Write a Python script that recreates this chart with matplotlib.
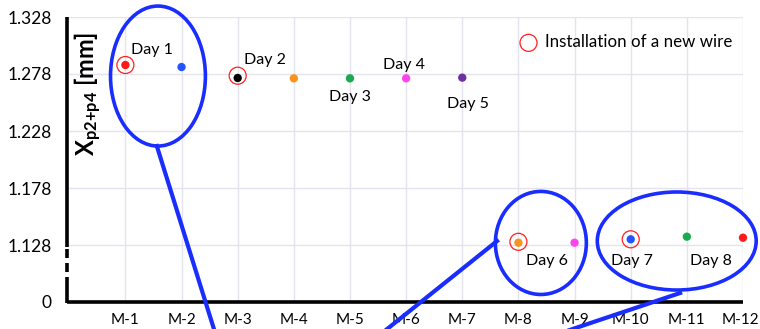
import matplotlib
matplotlib.use("Agg")
import matplotlib.pyplot as plt
from matplotlib.patches import Ellipse
from matplotlib.lines import Line2D
from matplotlib.transforms import ScaledTranslation

plt.rcParams['font.family'] = ['Lato', 'DejaVu Sans']
plt.rcParams['mathtext.fontset'] = 'custom'
plt.rcParams['mathtext.rm'] = 'Lato'
plt.rcParams['mathtext.bf'] = 'Lato:bold'

# Measurement data
months = ["M-1", "M-2", "M-3", "M-4", "M-5", "M-6",
          "M-7", "M-8", "M-9", "M-10", "M-11", "M-12"]
values = [1.2859, 1.2841, 1.2745, 1.2742, 1.2742, 1.2742,
          1.2748, 1.1300, 1.1300, 1.1330, 1.1353, 1.1344]
point_colors = ["#ff1a1a", "#2255ff", "#000000", "#f7941d", "#1aab50", "#ff44ee",
                "#7030a0", "#f7941d", "#ff44ee", "#2255ff", "#1aab50", "#ff1a1a"]

# Months where a new wire was installed
install_months = ["M-1", "M-3", "M-8", "M-10"]
install_values = [1.2859, 1.2765, 1.1308, 1.1330]

day_labels = ["Day 1", "Day 2", "Day 3", "Day 4", "Day 5", "Day 6", "Day 7", "Day 8"]
day_label_pos = [(1.47, 1.2991), (3.49, 1.2903), (5.00, 1.2578), (5.96, 1.2859),
                 (7.10, 1.2517), (8.51, 1.1140), (10.02, 1.1140), (11.43, 1.1140)]

y_ticks = [1.078, 1.128, 1.178, 1.228, 1.278, 1.328]
y_tick_labels = ["0", "1.128", "1.178", "1.228", "1.278", "1.328"]

fig = plt.figure(figsize=(7.6, 3.29), dpi=100)
ax = fig.add_axes([67 / 760, 27 / 329, 676 / 760, 285 / 329])

xpos = [months.index(m) + 1 for m in months]
ax.scatter(xpos, values, c=point_colors, s=36, zorder=4, linewidths=0, clip_on=False)

ix = [months.index(m) + 1 for m in install_months]
ax.scatter(ix, install_values, s=150, facecolors="none", edgecolors="#ff2020",
           linewidths=0.9, zorder=5, clip_on=False)

for txt, (lx, ly) in zip(day_labels, day_label_pos):
    ax.text(lx, ly, txt, ha="center", va="center", fontsize=11.5, color="black", zorder=6)

ax.set_xlim(-0.04, 12)
ax.set_ylim(1.078, 1.328)
ax.set_xticks(xpos)
ax.set_xticklabels(months, fontsize=11)
ax.set_yticks(y_ticks)
ax.set_yticklabels(y_tick_labels, fontsize=12.5)
ax.tick_params(length=0, pad=8)
ax.tick_params(axis="y", pad=11)
ax.grid(True, color="#e4e4ee", linewidth=1.0, zorder=0)
ax.set_axisbelow(True)

# Keep the last month label inside the canvas
last = ax.get_xticklabels()[-1]
last.set_transform(last.get_transform() + ScaledTranslation(-3 / 100, 0, fig.dpi_scale_trans))

for s in ["top", "right", "left", "bottom"]:
    ax.spines[s].set_visible(False)

# Bottom axis line
ax.add_line(Line2D([0, 1], [0, 0], transform=ax.transAxes, color="black",
                   linewidth=2.6, clip_on=False, solid_capstyle="butt", zorder=7))
# Broken left axis line
for y0, y1 in [(-0.004, 0.088), (0.105, 0.137), (0.154, 0.186), (0.193, 1.0)]:
    ax.add_line(Line2D([0, 0], [y0, y1], transform=ax.transAxes, color="black",
                       linewidth=2.6, clip_on=False, solid_capstyle="butt", zorder=7))

# Axis title placed inside the plot area
ax.text(0.031, 0.73, r"$\mathbf{X_{p2{+}p4}}$ [mm]", transform=ax.transAxes,
        rotation=90, ha="center", va="center", fontsize=17, fontweight="bold")

# Legend entry
ax.scatter([], [], s=150, facecolors="none", edgecolors="#ff2020", linewidths=0.9,
           label="Installation of a new wire")
ax.legend(loc="upper right", frameon=False, fontsize=12.2, handletextpad=0.0,
          borderaxespad=0.2, bbox_to_anchor=(1.0, 0.975))

# Highlight ellipses with call-out lines
blue = "#1a2dff"
ellipses = [((1.58, 1.2762), 1.69, 0.1228),
            ((8.40, 1.1298), 1.62, 0.0904),
            ((10.82, 1.1315), 2.83, 0.0860)]
for (cx, cy), w, h in ellipses:
    ax.add_patch(Ellipse((cx, cy), w, h, fill=False, edgecolor=blue, linewidth=2.6,
                         clip_on=False, zorder=8))
callouts = [((1.56, 2.61), (1.2148, 1.0491)),
            ((7.62, 5.53), (1.1315, 1.0491)),
            ((10.88, 8.65), (1.0859, 1.0491))]
for xs, ys in callouts:
    ax.add_line(Line2D(xs, ys, color=blue, linewidth=3.0, clip_on=False, zorder=8))

fig.savefig("out.png", dpi=100)
